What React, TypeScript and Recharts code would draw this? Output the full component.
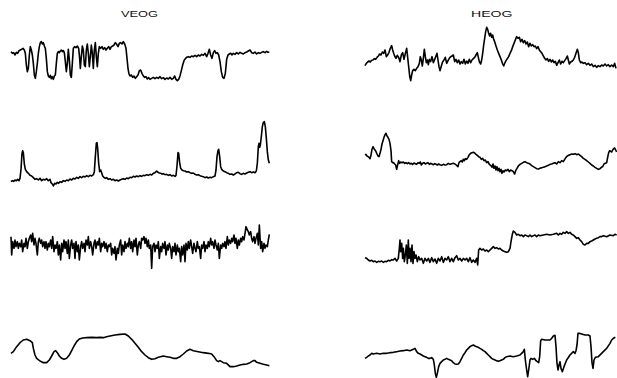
import React from 'react';
import { LineChart, Line, XAxis, YAxis } from 'recharts';

type Pt = [number, number];

// Sample index (time) vs. amplitude (EEG convention: negative up, so the Y axis is reversed)
const veogA: Pt[] = [[33,155],[37,160],[41,158],[45,165],[49,157],[53,160],[57,152],[61,150],[65,148],[69,145],[73,150],[76,160],[79,195],[82,215],[85,205],[88,165],[91,140],[94,150],[97,165],[100,190],[103,225],[106,235],[109,215],[112,190],[115,160],[118,140],[121,128],[124,125],[127,132],[130,128],[133,138],[136,145],[139,175],[142,215],[145,228],[148,232],[151,226],[154,236],[157,230],[160,238],[163,228],[166,225],[169,190],[172,160],[175,155],[178,158],[181,153],[184,150],[187,155],[190,152],[193,158],[196,185],[199,215],[202,190],[205,148],[208,180],[211,225],[214,232],[217,190],[220,145],[224,140],[228,143],[232,138],[236,145],[239,175],[241,205],[244,170],[247,138],[250,150],[253,195],[256,200],[259,150],[262,132],[265,160],[268,200],[271,170],[274,135],[277,160],[280,205],[283,150],[286,128],[289,170],[292,200],[295,160],[298,140],[302,145],[306,140],[310,148],[314,143],[318,150],[322,145],[326,140],[330,148],[334,140],[338,138],[342,135],[346,128],[350,133],[354,140],[358,130],[362,128],[366,132],[370,125],[374,132],[378,145],[381,175],[384,205],[387,222],[390,228],[394,225],[398,232],[402,228],[406,235],[410,230],[414,225],[418,212],[422,210],[426,220],[430,228],[434,232],[438,230],[442,237],[446,233],[450,238],[455,235],[460,232],[465,236],[470,232],[475,235],[480,230],[485,236],[490,233],[495,238],[500,234],[505,237],[510,232],[515,238],[520,235],[524,228],[528,238],[532,242],[536,238],[540,228],[544,212],[548,195],[552,182],[556,176],[560,172],[565,170],[570,172],[575,168],[580,170],[585,166],[590,170],[595,165],[600,168],[605,163],[610,166],[615,160],[620,170],[624,160],[628,148],[632,165],[636,175],[640,158],[644,152],[648,160],[652,158],[656,165],[660,185],[664,215],[668,232],[672,235],[676,220],[680,178],[684,165],[688,162],[692,160],[696,165],[700,160],[705,163],[710,158],[715,162],[720,157],[725,160],[730,162],[735,158],[740,156],[745,153],[750,150],[755,158],[760,160],[765,156],[770,162],[775,158],[780,160],[785,157],[790,155],[795,158],[800,154],[804,157],[808,156]];

const heogA: Pt[] = [[75,197],[79,190],[83,186],[87,183],[91,186],[95,181],[99,180],[103,176],[107,178],[111,172],[115,168],[119,162],[123,165],[127,156],[131,160],[135,150],[139,170],[143,165],[147,157],[151,145],[155,137],[158,150],[161,160],[164,168],[168,175],[172,166],[176,172],[180,185],[184,165],[188,158],[192,178],[196,160],[200,145],[203,172],[206,200],[209,228],[212,242],[215,225],[218,212],[222,208],[226,212],[230,205],[234,200],[238,190],[241,170],[244,180],[247,198],[250,175],[253,148],[256,170],[259,188],[262,180],[265,194],[268,178],[272,185],[276,170],[280,188],[284,178],[288,168],[291,160],[294,180],[297,200],[300,212],[304,198],[308,185],[312,180],[316,172],[320,190],[324,182],[328,175],[332,170],[336,168],[340,165],[344,185],[348,178],[352,188],[356,180],[360,192],[364,185],[368,190],[372,178],[376,192],[380,183],[384,190],[388,178],[392,188],[396,180],[400,176],[404,172],[408,165],[412,158],[415,172],[418,185],[422,192],[425,180],[428,160],[431,135],[434,115],[437,95],[440,82],[443,88],[446,100],[449,108],[452,100],[455,112],[458,105],[461,118],[464,125],[468,138],[472,150],[476,160],[480,170],[484,180],[488,192],[491,198],[494,190],[498,182],[502,176],[506,170],[510,160],[514,152],[518,140],[522,130],[526,120],[530,110],[534,115],[538,112],[542,125],[546,118],[550,128],[554,122],[558,132],[562,126],[566,140],[570,130],[574,138],[578,134],[582,140],[586,138],[590,146],[594,140],[598,150],[602,155],[606,160],[610,168],[614,175],[618,180],[622,176],[626,184],[630,178],[634,186],[638,180],[642,188],[646,184],[650,196],[654,188],[658,180],[662,192],[666,184],[670,188],[674,182],[678,176],[682,168],[685,180],[688,192],[692,186],[696,184],[700,180],[704,172],[708,160],[712,148],[715,158],[718,180],[722,188],[726,186],[730,190],[735,188],[740,194],[745,190],[750,196],[755,192],[760,200],[765,196],[770,202],[775,197],[780,200],[785,195],[790,198],[795,192],[800,198],[805,194],[810,200],[815,195],[820,200],[824,190],[828,205]];

const veogB: Pt[] = [[33,215],[37,212],[41,214],[45,210],[49,212],[53,208],[57,212],[60,205],[63,178],[66,130],[68,122],[70,128],[73,162],[76,178],[80,185],[85,190],[90,196],[95,198],[100,203],[105,208],[110,206],[115,210],[120,205],[125,212],[130,208],[135,210],[140,206],[145,212],[150,208],[153,218],[157,222],[160,228],[164,220],[168,222],[172,217],[176,220],[180,215],[185,217],[190,212],[195,214],[200,210],[205,212],[210,207],[215,210],[220,205],[225,207],[230,202],[235,205],[240,200],[245,203],[250,199],[255,201],[260,197],[265,200],[270,196],[275,198],[280,194],[283,185],[286,140],[289,100],[291,98],[293,115],[296,160],[299,185],[302,180],[305,188],[308,198],[312,202],[316,205],[320,203],[325,208],[330,206],[335,210],[340,208],[345,212],[350,210],[355,213],[360,210],[365,208],[370,206],[375,208],[380,204],[385,206],[390,202],[395,203],[400,199],[405,201],[410,198],[415,200],[420,197],[425,199],[430,196],[435,197],[440,194],[445,196],[450,193],[455,195],[460,190],[465,188],[470,183],[474,187],[478,189],[482,190],[486,192],[490,191],[495,194],[500,193],[505,196],[510,194],[515,198],[520,196],[525,199],[528,196],[531,168],[534,128],[536,130],[539,158],[542,175],[546,180],[550,182],[555,183],[560,186],[565,185],[570,188],[575,190],[580,189],[585,193],[590,195],[595,194],[600,197],[605,199],[610,200],[615,203],[620,201],[625,204],[630,202],[635,203],[640,200],[645,198],[648,180],[651,140],[654,122],[656,118],[659,140],[662,170],[665,178],[670,183],[675,185],[680,188],[685,190],[690,193],[695,192],[700,195],[705,192],[710,188],[715,187],[720,191],[725,193],[730,190],[735,192],[740,189],[745,187],[750,185],[755,188],[760,186],[765,188],[769,183],[772,160],[775,110],[777,100],[779,112],[781,105],[784,80],[787,50],[790,37],[793,35],[796,50],[799,85],[802,125],[805,150],[808,160]];

const heogB: Pt[] = [[75,105],[78,103],[81,108],[84,110],[87,112],[90,116],[93,105],[96,88],[99,80],[102,86],[105,90],[108,95],[111,102],[114,108],[117,110],[120,100],[123,88],[126,72],[129,62],[132,52],[135,44],[138,40],[141,48],[144,52],[147,58],[150,70],[153,92],[155,125],[158,128],[161,128],[164,132],[167,135],[170,148],[173,135],[176,122],[179,130],[182,126],[186,128],[190,126],[194,130],[198,128],[202,131],[206,128],[210,132],[214,130],[218,133],[222,129],[226,131],[230,133],[234,128],[238,130],[241,126],[244,135],[248,130],[252,128],[256,132],[260,130],[264,128],[268,133],[272,130],[276,132],[280,134],[284,131],[288,133],[292,135],[296,132],[300,134],[305,136],[310,133],[315,135],[320,134],[325,130],[330,133],[335,131],[340,130],[345,132],[350,136],[354,140],[357,128],[360,125],[364,122],[367,126],[370,118],[373,122],[376,116],[380,118],[384,112],[388,104],[392,100],[396,98],[400,97],[404,99],[408,103],[412,106],[416,110],[420,112],[424,118],[428,115],[432,122],[436,120],[440,128],[444,125],[448,133],[452,136],[456,142],[459,132],[462,145],[465,138],[468,150],[471,140],[474,152],[477,145],[480,155],[483,148],[486,160],[489,152],[492,156],[496,150],[500,152],[504,148],[508,155],[512,150],[516,152],[520,155],[524,162],[527,152],[531,145],[535,138],[540,133],[545,130],[550,127],[555,125],[560,128],[565,130],[570,132],[575,137],[580,140],[585,143],[590,146],[595,147],[600,145],[605,143],[610,142],[615,140],[620,138],[625,136],[630,133],[635,132],[640,130],[645,128],[650,132],[655,125],[660,128],[665,122],[670,125],[674,118],[678,112],[682,108],[686,106],[690,104],[695,102],[700,103],[705,101],[710,104],[715,102],[720,106],[725,110],[730,115],[735,118],[740,122],[745,126],[750,130],[755,135],[760,138],[765,142],[770,145],[775,148],[780,146],[784,142],[788,140],[792,132],[796,130],[800,128],[803,112],[806,98],[809,92],[812,94],[815,96],[818,90],[821,86],[824,84],[827,90],[830,96]];

const veogC: Pt[] = [[33,65],[35,120],[38,80],[42,100],[45,75],[48,95],[52,80],[55,100],[58,85],[62,95],[65,75],[68,110],[72,85],[75,95],[78,70],[82,100],[85,80],[88,70],[92,60],[95,80],[98,55],[102,90],[105,70],[108,85],[112,120],[115,80],[118,70],[122,85],[125,75],[128,95],[132,80],[135,100],[138,80],[142,105],[145,85],[148,95],[152,75],[155,100],[158,65],[162,110],[165,90],[168,100],[172,80],[175,120],[178,90],[182,135],[185,85],[188,110],[192,75],[195,100],[198,80],[202,115],[205,75],[208,130],[212,90],[215,75],[218,100],[222,85],[225,130],[228,80],[232,110],[235,90],[238,135],[242,95],[245,80],[248,100],[252,85],[255,110],[258,75],[262,90],[265,65],[268,100],[272,80],[275,95],[278,120],[282,85],[285,75],[288,100],[292,80],[295,90],[298,70],[302,110],[305,85],[308,95],[312,80],[315,100],[318,85],[322,110],[325,90],[328,95],[332,85],[335,120],[338,100],[342,115],[345,95],[348,135],[352,100],[355,115],[358,90],[362,75],[365,120],[368,90],[372,110],[375,80],[378,100],[382,85],[385,95],[388,70],[392,100],[395,80],[398,110],[402,75],[405,95],[408,70],[412,120],[415,90],[418,80],[422,100],[425,70],[428,75],[432,65],[435,85],[438,70],[442,95],[445,75],[448,100],[452,90],[455,160],[458,95],[462,85],[465,110],[468,90],[472,100],[475,80],[478,130],[482,95],[485,110],[488,85],[492,100],[495,80],[498,120],[502,90],[505,105],[508,85],[512,100],[515,130],[518,95],[522,110],[525,85],[528,120],[532,90],[535,110],[538,100],[542,140],[545,95],[548,120],[552,90],[555,140],[558,85],[562,105],[565,80],[568,100],[572,75],[575,95],[578,115],[582,85],[585,100],[588,110],[592,80],[595,100],[598,95],[602,130],[605,90],[608,100],[612,80],[615,110],[618,90],[622,100],[625,80],[628,95],[632,70],[635,90],[638,80],[642,100],[645,75],[648,90],[652,105],[655,85],[658,130],[662,90],[665,100],[668,85],[672,95],[675,80],[678,100],[682,65],[685,90],[688,75],[692,85],[695,70],[698,80],[702,60],[705,85],[708,70],[712,100],[715,75],[718,90],[722,70],[725,80],[728,65],[732,75],[735,55],[738,35],[742,45],[745,50],[748,60],[752,50],[755,70],[758,80],[762,65],[765,85],[768,70],[772,55],[775,90],[778,30],[782,100],[785,80],[788,110],[792,85],[795,100],[798,90],[802,95],[805,75],[808,58]];

const heogC: Pt[] = [[75,98],[80,100],[85,105],[90,108],[95,106],[100,110],[105,108],[110,112],[115,109],[120,110],[125,108],[130,112],[135,109],[140,110],[145,106],[150,108],[155,104],[160,105],[165,100],[170,108],[175,100],[178,70],[180,45],[182,80],[185,55],[188,100],[190,70],[193,110],[196,90],[199,60],[202,115],[205,45],[207,100],[210,70],[213,110],[216,60],[219,115],[222,80],[225,100],[228,90],[232,110],[236,95],[240,105],[245,100],[250,115],[255,100],[260,108],[265,100],[270,112],[275,98],[280,110],[285,102],[290,115],[295,100],[300,108],[305,95],[310,112],[315,100],[320,105],[325,95],[330,110],[335,100],[340,110],[345,98],[350,92],[355,105],[360,100],[365,108],[370,100],[375,105],[380,100],[385,110],[390,98],[395,112],[400,105],[405,112],[410,100],[413,120],[416,75],[420,70],[425,75],[430,72],[435,78],[440,75],[445,80],[450,75],[455,70],[460,65],[465,70],[470,68],[475,72],[480,70],[485,75],[490,78],[495,80],[500,82],[505,80],[510,70],[513,50],[517,28],[520,18],[525,22],[530,30],[535,28],[540,32],[545,30],[550,35],[555,30],[560,32],[565,35],[570,30],[575,35],[580,32],[585,30],[590,35],[595,30],[600,32],[610,30],[620,28],[630,30],[640,28],[650,25],[655,30],[660,25],[665,28],[670,22],[675,25],[680,20],[685,25],[690,22],[695,28],[700,30],[705,35],[710,40],[715,38],[720,45],[725,50],[730,58],[735,60],[740,55],[745,55],[750,50],[755,48],[760,45],[765,42],[770,40],[775,38],[780,35],[785,35],[790,32],[800,35],[810,30],[820,32],[825,28],[830,30]];

const veogD: Pt[] = [[33,100],[40,95],[50,80],[60,68],[70,60],[80,58],[90,62],[97,68],[100,85],[105,105],[110,115],[120,123],[130,128],[140,128],[148,120],[155,108],[162,95],[167,92],[172,98],[178,108],[185,115],[192,118],[200,115],[208,105],[215,92],[222,78],[230,65],[238,57],[248,54],[260,53],[275,52],[290,53],[300,52],[310,53],[320,50],[330,48],[345,45],[360,43],[375,42],[385,48],[395,58],[405,70],[415,82],[425,95],[435,105],[445,113],[455,118],[465,116],[475,112],[490,108],[500,110],[510,112],[520,115],[530,115],[540,110],[550,102],[560,93],[570,88],[580,92],[595,95],[610,98],[625,100],[635,102],[642,110],[650,122],[655,125],[660,122],[670,128],[680,130],[690,140],[700,140],[710,138],[720,135],[730,133],[740,132],[750,128],[760,122],[765,122],[770,127],[780,130],[790,133],[800,135],[808,137]];

const heogD: Pt[] = [[75,115],[80,112],[85,108],[90,105],[95,100],[100,102],[110,100],[120,102],[130,100],[140,100],[150,98],[160,97],[170,95],[180,93],[190,92],[200,90],[210,92],[215,90],[220,88],[225,85],[230,95],[235,100],[240,102],[245,105],[250,108],[255,110],[260,112],[265,115],[270,115],[275,113],[280,118],[283,135],[286,160],[289,172],[292,160],[296,140],[300,130],[305,125],[310,120],[315,118],[320,115],[325,118],[330,120],[335,122],[340,128],[345,132],[350,133],[355,132],[360,125],[365,115],[370,105],[375,98],[380,90],[385,85],[390,80],[395,77],[400,75],[405,78],[410,80],[415,82],[420,85],[425,88],[430,92],[435,95],[440,100],[445,105],[450,110],[455,115],[460,118],[465,120],[470,122],[475,124],[480,122],[490,118],[495,113],[500,110],[510,108],[520,110],[530,108],[540,105],[545,100],[550,95],[553,88],[556,120],[560,150],[563,170],[566,150],[570,120],[573,115],[578,118],[583,115],[588,122],[592,125],[596,128],[599,110],[602,62],[605,58],[615,60],[625,60],[630,60],[635,55],[640,48],[645,46],[648,80],[651,130],[654,150],[657,135],[660,125],[663,145],[667,155],[672,140],[680,120],[690,105],[700,95],[705,100],[708,92],[711,75],[714,40],[718,40],[725,42],[735,45],[745,45],[750,48],[753,80],[756,128],[759,145],[762,120],[766,112],[775,110],[790,95],[800,85],[810,70],[815,60],[820,55],[826,52]];

const channelTitles = ['VEOG', 'HEOG'];

const panels = [
  { series: veogA, left: 0, top: 0, width: 300, height: 95, span: [900, 285] },
  { series: heogA, left: 340, top: 0, width: 277, height: 95, span: [831, 285] },
  { series: veogB, left: 0, top: 110, width: 300, height: 85, span: [900, 255] },
  { series: heogB, left: 340, top: 120, width: 277, height: 65, span: [831, 195] },
  { series: veogC, left: 0, top: 215, width: 300, height: 60, span: [900, 180] },
  { series: heogC, left: 340, top: 225, width: 277, height: 50, span: [831, 150] },
  { series: veogD, left: 0, top: 320, width: 300, height: 55, span: [900, 165] },
  { series: heogD, left: 340, top: 320, width: 277, height: 58, span: [831, 174] },
];

function Trace({ series, left, top, width, height, span }: any) {
  const data = series.map(([t, v]: Pt) => ({ t, v }));
  return (
    <div style={{ position: 'absolute', left, top, width, height }}>
      <LineChart width={width} height={height} data={data} margin={{ top: 0, right: 0, bottom: 0, left: 0 }}>
        <XAxis type="number" dataKey="t" domain={[0, span[0]]} allowDataOverflow hide />
        <YAxis type="number" domain={[0, span[1]]} allowDataOverflow reversed hide />
        <Line type="linear" dataKey="v" stroke="#000" strokeWidth={1.6} strokeLinejoin="round" dot={false} activeDot={false} isAnimationActive={false} />
      </LineChart>
    </div>
  );
}

const titleFont = "'Liberation Sans', Arial, Helvetica, sans-serif";

export default function App() {
  return (
    <div style={{ position: 'absolute', left: 0, top: 0, width: 617, height: 378, background: '#fff', overflow: 'hidden' }}>
      <svg width={617} height={24} style={{ position: 'absolute', left: 0, top: 0 }}>
        <text x={121} y={17} fontFamily={titleFont} fontSize={9.5} textLength={37} lengthAdjust="spacingAndGlyphs" fill="#111">{channelTitles[0]}</text>
        <text x={471} y={17} fontFamily={titleFont} fontSize={9.5} textLength={41.5} lengthAdjust="spacingAndGlyphs" fill="#111">{channelTitles[1]}</text>
      </svg>
      {panels.map((p, i) => (
        <Trace key={i} {...p} />
      ))}
    </div>
  );
}
